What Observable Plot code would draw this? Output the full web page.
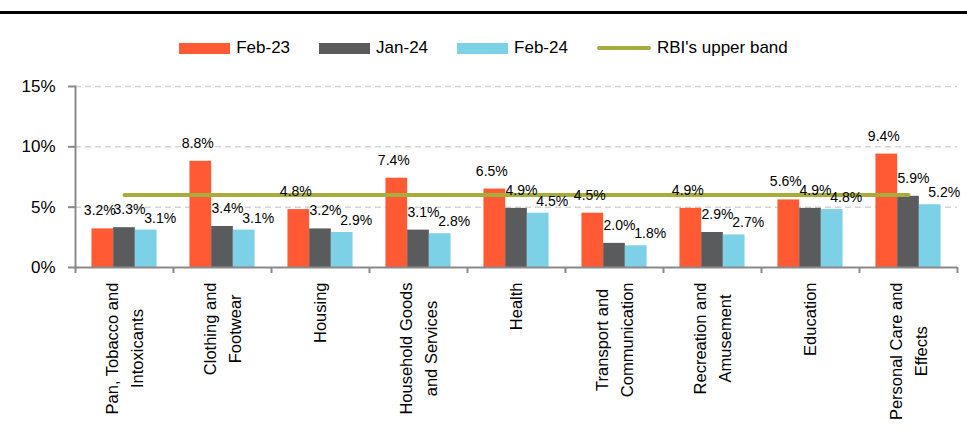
<!DOCTYPE html>
<html><head><meta charset="utf-8">
<script src="https://cdn.jsdelivr.net/npm/d3@7"></script>
<script src="https://cdn.jsdelivr.net/npm/@observablehq/plot@0.6"></script>
<style>
body{margin:0;background:#fff;font-family:"Liberation Sans",Arial,sans-serif;}
#wrap{position:relative;width:967px;height:430px;overflow:hidden;}
#rule{position:absolute;left:0;top:11px;width:967px;height:3px;background:#000;}
#legend{position:absolute;left:0;top:38px;width:967px;height:20px;display:flex;justify-content:center;align-items:center;gap:29px;font-size:17px;color:#000;}
.item{display:flex;align-items:center;gap:6px;white-space:nowrap;}
.sw{width:51px;height:11px;}
.ln{width:54px;height:4px;border-radius:2px;}
#chart{position:absolute;left:0;top:65px;}
</style>
</head><body>
<div id="wrap">
  <div id="rule"></div>
  <div id="legend"></div>
  <div id="chart"></div>
</div>
<script>
const categories = ["Pan, Tobacco and\nIntoxicants", "Clothing and\nFootwear", "Housing", "Household Goods\nand Services", "Health", "Transport and\nCommunication", "Recreation and\nAmusement", "Education", "Personal Care and\nEffects"];
const series = ["Feb-23", "Jan-24", "Feb-24"];
const feb23 = [3.2, 8.8, 4.8, 7.4, 6.5, 4.5, 4.9, 5.6, 9.4];
const jan24 = [3.3, 3.4, 3.2, 3.1, 4.9, 2.0, 2.9, 4.9, 5.9];
const feb24 = [3.1, 3.1, 2.9, 2.8, 4.5, 1.8, 2.7, 4.8, 5.2];
const rbiUpperBand = 6;
const lineName = "RBI's upper band";
const yTicks = [0, 5, 10, 15];

const colors = ["#FF5A33", "#5A5B5D", "#7DD1E6"];
const lineColor = "#A7AC3B";
const values = [feb23, jan24, feb24];

const data = categories.flatMap((c, i) => series.map((s, k) => ({cat: c, series: s, k, value: values[k][i]})));

// legend
const legend = document.getElementById("legend");
series.forEach((s, k) => {
  const it = document.createElement("div"); it.className = "item";
  it.innerHTML = `<div class="sw" style="background:${colors[k]}"></div><span>${s}</span>`;
  legend.appendChild(it);
});
{
  const it = document.createElement("div"); it.className = "item";
  it.innerHTML = `<div class="ln" style="background:${lineColor}"></div><span>${lineName}</span>`;
  legend.appendChild(it);
}

const W = 967, ML = 75, MR = 10;
const bw = (W - ML - MR) / categories.length;
const barW = 21.7;
const groupPad = (bw - 3 * barW) / 2;

const font = "16.5px 'Liberation Sans', Arial, sans-serif";
const ctx = document.createElement("canvas").getContext("2d");
ctx.font = font;
const longest = c => Math.max(...c.split("\n").map(l => ctx.measureText(l).width));

const labelDx = [-3, 5, 14];
const labelDy = [-18, -18, -12];

const marks = [
  Plot.gridY({ticks: [5, 10, 15], stroke: "#d4d4d4", strokeOpacity: 1, strokeWidth: 1.5, strokeDasharray: "6,4"}),
  ...series.map((s, k) => Plot.barY(data.filter(d => d.k === k), {
    x: "cat", y: "value", fill: colors[k],
    insetLeft: groupPad + k * barW, insetRight: bw - groupPad - (k + 1) * barW
  })),
  Plot.lineY(categories, {x: d => d, y: () => rbiUpperBand, stroke: lineColor, strokeWidth: 4, strokeLinecap: "round"}),
  ...series.map((s, k) => Plot.text(data.filter(d => d.k === k), {
    x: "cat", y: "value", text: d => d.value.toFixed(1) + "%",
    dx: (k - 1) * barW + labelDx[k], dy: labelDy[k], fontSize: 14, fill: "#000"
  })),
  Plot.ruleY([0], {stroke: "#8a8a8a", strokeWidth: 2}),
  Plot.frame({anchor: "left", stroke: "#8a8a8a", strokeWidth: 2}),
  Plot.axisY({ticks: yTicks, tickFormat: d => d + "%", tickSize: 7, tickPadding: 13, fontSize: 17, stroke: "#8a8a8a", strokeWidth: 2, fill: "#000", label: null}),
  Plot.axisX({ticks: categories, tickFormat: () => "", tickSize: 6, stroke: "#8a8a8a", strokeWidth: 2, dx: -bw / 2, label: null}),
  Plot.axisX({ticks: [categories[categories.length - 1]], tickFormat: () => "", tickSize: 6, stroke: "#8a8a8a", strokeWidth: 2, dx: bw / 2, label: null}),
  ...categories.map(c => Plot.text([c], {
    x: d => d, frameAnchor: "bottom", rotate: -90, textAnchor: "middle", lineAnchor: "middle",
    lineHeight: 1.5, fontSize: 16.5, fill: "#000", dx: -2, dy: 15 + longest(c) / 2
  }))
];

const plot = Plot.plot({
  width: W, height: 365,
  marginLeft: ML, marginRight: MR, marginTop: 21, marginBottom: 163,
  x: {domain: categories, padding: 0},
  y: {domain: [0, 15]},
  style: {fontFamily: "'Liberation Sans', Arial, sans-serif", background: "white", overflow: "visible"},
  marks
});
document.getElementById("chart").appendChild(plot);
</script>
</body></html>
